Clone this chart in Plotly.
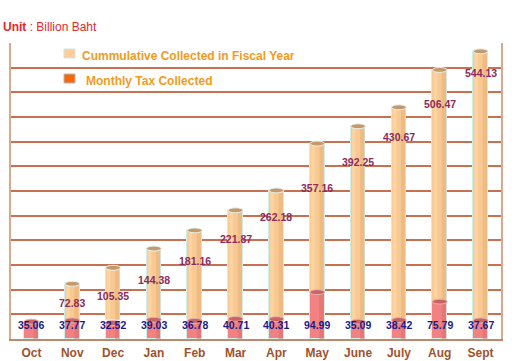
import plotly.graph_objects as go

months = ["Oct", "Nov", "Dec", "Jan", "Feb", "Mar", "Apr", "May", "June", "July", "Aug", "Sept"]
monthly = [35.06, 37.77, 32.52, 39.03, 36.78, 40.71, 40.31, 94.99, 35.09, 38.42, 75.79, 37.67]
cumulative = [None, 72.83, 105.35, 144.38, 181.16, 221.87, 262.18, 357.16, 392.25, 430.67, 506.47, 544.13]

# styling: pixel drop of each cumulative label below its cylinder top
label_drop = [0, 19, 28, 31, 31, 29, 27, 44, 36, 30, 34, 22]

L, R, T, B = 11, 19, 43, 22
W, H = 520, 361
PW, PH = W - L - R, H - T - B
CUM_BASE = 39  # cylinders of the cumulative series stand on a raised base

def px(x):
    return (x - L) / PW

def py(y):
    return (H - B - y) / PH

BW = 0.36
fig = go.Figure()
fig.add_trace(go.Bar(x=months, y=cumulative, base=CUM_BASE, width=BW,
                     marker=dict(color="#F9C992", line=dict(color="#CFF0EA", width=1)),
                     showlegend=False, hoverinfo="skip"))
fig.add_trace(go.Bar(x=months, y=monthly, width=BW,
                     marker=dict(color="#F28282", line=dict(color="#CFF0EA", width=1)),
                     showlegend=False, hoverinfo="skip"))

shapes = []
annotations = []
for i, (m, mv, cv) in enumerate(zip(months, monthly, cumulative)):
    if cv is not None:
        top = CUM_BASE + cv
        shapes.append(dict(type="rect", xref="x", yref="y", x0=i + 0.05, x1=i + BW / 2 - 0.02,
                           y0=max(mv, CUM_BASE), y1=top, fillcolor="#E8AE78", opacity=0.55,
                           line=dict(width=0), layer="above"))
        shapes.append(dict(type="rect", xref="x", yref="y", x0=i - BW / 2 + 0.03, x1=i - 0.06,
                           y0=max(mv, CUM_BASE), y1=top, fillcolor="#FFE0B8", opacity=0.45,
                           line=dict(width=0), layer="above"))
        shapes.append(dict(type="circle", xref="x", yref="y", x0=i - BW / 2, x1=i + BW / 2,
                           y0=top - 5, y1=top + 5, fillcolor="#C49A6C", line=dict(color="#E8F4EE", width=1), layer="above"))
    shapes.append(dict(type="rect", xref="x", yref="y", x0=i + 0.05, x1=i + BW / 2 - 0.02,
                       y0=0, y1=mv, fillcolor="#D86464", opacity=0.4, line=dict(width=0), layer="above"))
    shapes.append(dict(type="circle", xref="x", yref="y", x0=i - BW / 2, x1=i + BW / 2,
                       y0=mv - 5, y1=mv + 5, fillcolor="#C86464", line=dict(color="#E8B0B0", width=1), layer="above"))
for i, (m, mv, cv) in enumerate(zip(months, monthly, cumulative)):
    annotations.append(dict(x=m, y=0, xref="x", yref="y", text=f"{mv:.2f}", showarrow=False, yshift=14,
                            font=dict(family="Liberation Sans", size=10.5, color="#1A1A8C", weight="bold")))
    if cv is not None:
        top = CUM_BASE + cv
        annotations.append(dict(x=m, y=top, xref="x", yref="y", text=f"{cv:.2f}", showarrow=False,
                                yshift=-label_drop[i],
                                font=dict(family="Liberation Sans", size=10.5, color="#8E2A5A", weight="bold")))

# legend-like rows and unit text
shapes.append(dict(type="rect", xref="paper", yref="paper", x0=px(64), x1=px(75), y0=py(58), y1=py(49),
                   fillcolor="#FFCC99", line=dict(color="#CDE6E0", width=1)))
shapes.append(dict(type="rect", xref="paper", yref="paper", x0=px(64), x1=px(75), y0=py(83), y1=py(74),
                   fillcolor="#FF6600", line=dict(color="#A8B8D0", width=1)))
annotations.append(dict(x=px(80), y=py(56), xref="paper", yref="paper", xanchor="left", yanchor="middle",
                        text="Cummulative Collected in Fiscal Year", showarrow=False,
                        font=dict(family="Liberation Sans", size=12, color="#F39A1E", weight="bold")))
annotations.append(dict(x=px(84), y=py(81), xref="paper", yref="paper", xanchor="left", yanchor="middle",
                        text="Monthly Tax Collected", showarrow=False,
                        font=dict(family="Liberation Sans", size=12, color="#F39A1E", weight="bold")))
annotations.append(dict(x=px(1), y=py(27), xref="paper", yref="paper", xanchor="left", yanchor="middle",
                        text="<b>Unit</b> : Billion Baht", showarrow=False,
                        font=dict(family="Liberation Sans", size=12, color="#E8252D")))

fig.update_layout(
    width=W, height=H, margin=dict(l=L, r=R, t=T, b=B),
    barmode="overlay", bargap=0,
    plot_bgcolor="white", paper_bgcolor="white",
    shapes=shapes, annotations=annotations,
    xaxis=dict(automargin=False, showline=True, linecolor="#C0886A", linewidth=2, ticks="", showgrid=False,
               ticklabelstandoff=2,
               tickfont=dict(family="Liberation Sans", size=12, color="#A0522D", weight="bold")),
    yaxis=dict(automargin=False, range=[0, 600], dtick=50, showticklabels=False, showgrid=True,
               gridcolor="#C8704F", gridwidth=1.5,
               zeroline=False, showline=True, linecolor="#D8A890", linewidth=2, mirror=True),
)
fig.write_html("out.html", config={"displayModeBar": False},
               post_script="document.body.style.margin='0';document.body.style.overflow='hidden';")
